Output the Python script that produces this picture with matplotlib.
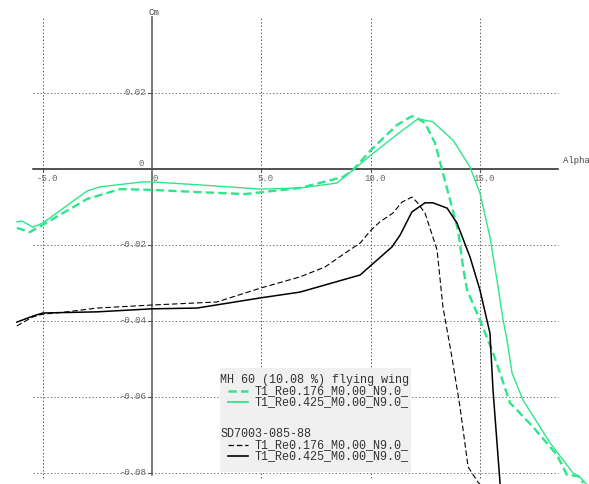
import matplotlib
matplotlib.use("Agg")
import matplotlib.pyplot as plt
from matplotlib.patches import Rectangle

plt.rcParams['font.family'] = ['Liberation Mono', 'DejaVu Sans Mono']
plt.rcParams['lines.scale_dashes'] = False

GREEN = '#2ee68a'

# MH 60 (10.08 %) flying wing, Re 0.176
mh_lo_alpha = [-6.18, -5.58, -4.99, -2.97, -1.46, 0.0, 2.20, 4.25, 5.99, 6.77, 8.74, 9.19,
               10.02, 11.21, 11.89, 12.03, 12.49, 12.95, 13.31, 13.72, 14.00, 14.23, 14.41,
               15.00, 15.60, 15.92, 16.38, 16.61, 17.43, 18.53, 18.98, 19.49, 19.72]
mh_lo_cm = [-0.0155, -0.0166, -0.0147, -0.0079, -0.0053, -0.0055, -0.0061, -0.0066, -0.0055,
            -0.0050, -0.0021, -0.0003, 0.0050, 0.0116, 0.0139, 0.0137, 0.0121, 0.0068, -0.0011,
            -0.0100, -0.0161, -0.0258, -0.0318, -0.0397, -0.0484, -0.0537, -0.0616, -0.0629,
            -0.0679, -0.0753, -0.0805, -0.0808, -0.0826]

# MH 60, Re 0.425
mh_hi_alpha = [-6.18, -5.95, -5.44, -4.99, -2.97, -2.38, -0.41, 0.0, 2.20, 4.99, 6.77, 8.46,
               9.19, 10.02, 11.35, 12.17, 12.85, 13.77, 14.55, 15.00, 15.46, 15.78, 16.06,
               16.24, 16.47, 16.97, 18.21, 19.26, 19.58, 20.13]
mh_hi_cm = [-0.0139, -0.0137, -0.0153, -0.0142, -0.0058, -0.0047, -0.0034, -0.0034, -0.0042,
            -0.0053, -0.0050, -0.0037, -0.0003, 0.0037, 0.0097, 0.0132, 0.0124, 0.0076, 0.0005,
            -0.0063, -0.0179, -0.0292, -0.0397, -0.0450, -0.0537, -0.0608, -0.0721, -0.0800,
            -0.0811, -0.0845]

# SD7003-085-88, Re 0.176
sd_lo_alpha = [-6.18, -5.44, -4.99, -3.89, -2.52, 0.0, 2.97, 4.99, 6.77, 7.91, 8.92, 9.52,
               10.02, 10.43, 11.02, 11.44, 11.89, 12.12, 12.49, 13.04, 13.31, 13.72, 14.09,
               14.46, 14.91, 15.46]
sd_lo_cm = [-0.0413, -0.0389, -0.0382, -0.0376, -0.0366, -0.0358, -0.0350, -0.0313, -0.0284,
            -0.0258, -0.0218, -0.0195, -0.0161, -0.0139, -0.0116, -0.0087, -0.0074, -0.0087,
            -0.0116, -0.0213, -0.0363, -0.0495, -0.0626, -0.0784, -0.0824, -0.0858]

# SD7003-085-88, Re 0.425
sd_hi_alpha = [-6.18, -5.44, -4.99, -2.52, 0.0, 2.06, 4.99, 6.77, 9.52, 10.98, 11.35, 11.89,
               12.49, 12.85, 13.50, 13.95, 14.55, 15.00, 15.46, 15.60, 15.92, 15.97]
sd_hi_cm = [-0.0403, -0.0387, -0.0379, -0.0376, -0.0368, -0.0366, -0.0339, -0.0324, -0.0279,
            -0.0205, -0.0174, -0.0113, -0.0089, -0.0089, -0.0103, -0.0142, -0.0232, -0.0318,
            -0.0432, -0.0582, -0.0826, -0.0858]

x_ticks = [-5.0, 5.0, 10.0, 15.0]
x_tick_labels = ['-5.0', '5.0', '10.0', '15.0']
y_ticks = [0.02, -0.02, -0.04, -0.06, -0.08]
y_tick_labels = ['0.02', '-0.02', '-0.04', '-0.06', '-0.08']

fig = plt.figure(figsize=(5.89, 4.84), dpi=100)
ax = fig.add_axes([0, 0, 1, 1])
ax.set_xlim(-6.95, 19.99)
ax.set_ylim(-0.0829, 0.04447)
ax.axis('off')

gx0, gx1 = -5.44, 18.57
gy0, gy1 = -0.0813, 0.0400

# grid
for xt in x_ticks:
    ax.plot([xt, xt], [gy0, gy1], color='#555555', lw=0.7, ls=(0, (1, 1.5)), zorder=1)
for yt in y_ticks:
    ax.plot([gx0, gx1], [yt, yt], color='#777777', lw=0.7, ls=(0, (1, 1.5)), zorder=1)

# axes
ax.plot([gx0, gx1], [0, 0], color='#222222', lw=1.1, zorder=2)
ax.plot([0, 0], [-0.0806, gy1], color='#555555', lw=1.1, zorder=2)

for xt, lab in zip(x_ticks, x_tick_labels):
    ax.plot([xt, xt], [0, -0.0008], color='#555555', lw=0.8, zorder=2)
    ax.text(xt + 0.2, -0.0013, lab, fontsize=6.5, color='#666666',
            ha='center', va='top')
ax.text(0.15, -0.0013, '0', fontsize=6.5, color='#666666', ha='center', va='top')
ax.text(-0.35, 0.0003, '0', fontsize=6.5, color='#666666', ha='right', va='bottom')
for yt, lab in zip(y_ticks, y_tick_labels):
    ax.plot([-0.2, 0], [yt, yt], color='#555555', lw=0.8, zorder=2)
    ax.text(-0.25, yt, lab, fontsize=6.5, color='#666666', ha='right', va='center')

ax.text(0.1, 0.0411, 'Cm', fontsize=6.5, color='#444444', ha='center', va='center')
ax.text(18.8, 0.0022, 'Alpha', fontsize=6.5, color='#444444', ha='left', va='center')

# curves
ax.plot(mh_lo_alpha, mh_lo_cm, color=GREEN, lw=1.7, dashes=(6, 3), zorder=3)
ax.plot(mh_hi_alpha, mh_hi_cm, color=GREEN, lw=1.0, zorder=3)
ax.plot(sd_lo_alpha, sd_lo_cm, color='black', lw=0.8, dashes=(4, 2), zorder=3)
ax.plot(sd_hi_alpha, sd_hi_cm, color='black', lw=1.1, zorder=3)

# legend
W, H = 589, 484
def fx(px):
    return px / W
def fy(py):
    return 1 - py / H

fig.patches.append(Rectangle((fx(220), fy(472)), fx(411) - fx(220), fy(368) - fy(472),
                             transform=fig.transFigure, facecolor='#f0f0f0',
                             edgecolor='none', zorder=5))
legend_rows = [
    ('title', 'MH 60 (10.08 %) flying wing', None, 380),
    ('line', 'T1_Re0.176_M0.00_N9.0_', (GREEN, 1.8, (6, 3)), 391),
    ('line', 'T1_Re0.425_M0.00_N9.0_', (GREEN, 1.3, None), 402),
    ('title', 'SD7003-085-88', None, 434),
    ('line', 'T1_Re0.176_M0.00_N9.0_', ('black', 0.9, (4, 2)), 445),
    ('line', 'T1_Re0.425_M0.00_N9.0_', ('black', 1.2, None), 456),
]
for kind, label, style, py in legend_rows:
    if kind == 'title':
        fig.text(fx(220), fy(py), label, fontsize=8.5, color='#333333',
                 ha='left', va='center', zorder=6)
    else:
        color, lw, dash = style
        ln = plt.Line2D([fx(228), fx(248)], [fy(py), fy(py)], transform=fig.transFigure,
                        color=color, lw=lw, zorder=6)
        if dash:
            ln.set_dashes(dash)
        fig.lines.append(ln)
        fig.text(fx(255), fy(py), label, fontsize=8.5, color='#333333',
                 ha='left', va='center', zorder=6)

fig.savefig('out.png', dpi=100)
